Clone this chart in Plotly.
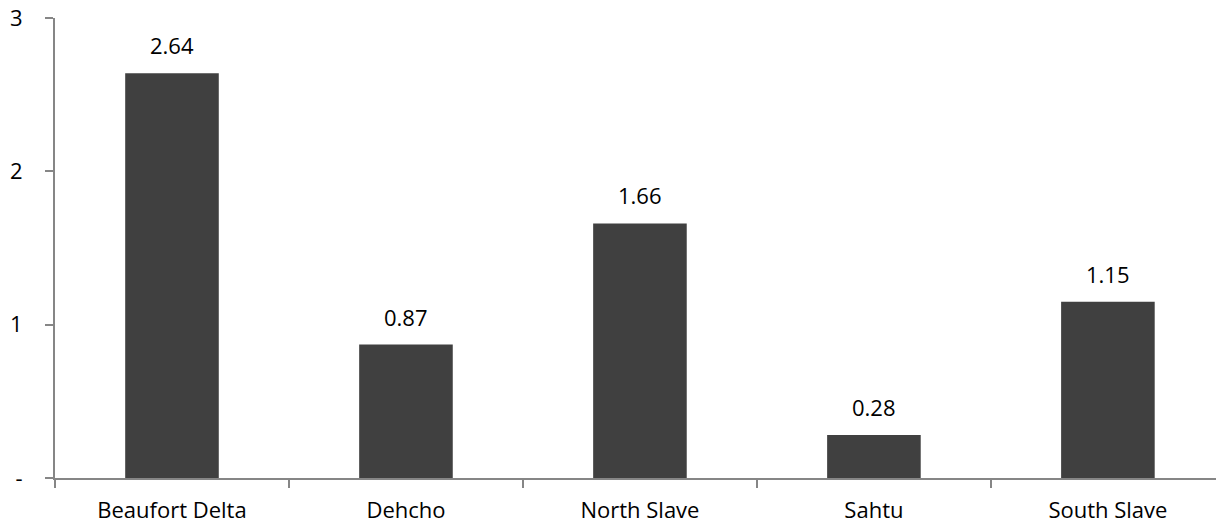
import plotly.graph_objects as go

categories = ["Beaufort Delta", "Dehcho", "North Slave", "Sahtu", "South Slave"]
values = [2.64, 0.87, 1.66, 0.28, 1.15]
value_labels = ["2.64", "0.87", "1.66", "0.28", "1.15"]
y_tickvals = [0, 1, 2, 3]
y_ticktext = ["-", "1", "2", "3"]

FONT = "Open Sans"
AXIS = "#868686"
FS = 22

fig = go.Figure()
fig.add_trace(go.Bar(
    x=categories, y=values,
    marker=dict(color="#404040", line=dict(width=0)),
    width=0.4,
    hoverinfo="x+y",
))

for c, v, t in zip(categories, values, value_labels):
    fig.add_annotation(x=c, y=v, text=t, showarrow=False,
                       yanchor="middle", yshift=28,
                       font=dict(family=FONT, size=FS, color="#000000"))

fig.update_layout(
    width=1216, height=525,
    margin=dict(l=55, r=0, t=18, b=47, autoexpand=False),
    paper_bgcolor="white", plot_bgcolor="white",
    showlegend=False,
    font=dict(family=FONT, size=FS, color="#000000"),
)
fig.update_xaxes(
    type="category",
    range=[-0.5, 4.462],
    automargin=False,
    showgrid=False, zeroline=False,
    showline=True, linecolor=AXIS, linewidth=2,
    ticks="outside", ticklen=8, tickcolor=AXIS, tickwidth=2,
    tickson="boundaries",
    ticklabelstandoff=12,
    tickfont=dict(family=FONT, size=FS, color="#000000"),
)
fig.update_yaxes(
    range=[0, 3],
    automargin=False,
    tickvals=y_tickvals, ticktext=y_ticktext,
    showgrid=False, zeroline=False,
    showline=True, linecolor=AXIS, linewidth=2,
    ticks="outside", ticklen=8, tickcolor=AXIS, tickwidth=2,
    ticklabelstandoff=18,
    tickfont=dict(family=FONT, size=FS, color="#000000"),
)

fig.write_html(
    "out.html",
    config={"displayModeBar": False},
    post_script="document.body.style.margin='0';document.body.style.overflow='hidden';",
)
